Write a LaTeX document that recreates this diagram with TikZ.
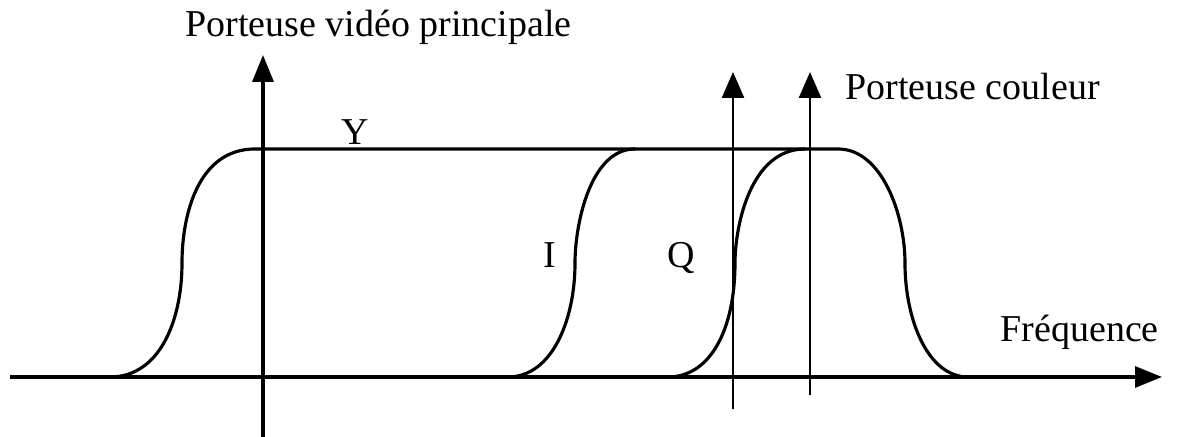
\documentclass[tikz,border=0pt]{standalone}
\usepackage{fontspec}
\setmainfont{Liberation Serif}
\usepackage{tikz}
\usetikzlibrary{arrows.meta, calc}
\tikzset{
    lbl/.style={
        font=\fontsize{10.8}{13}\selectfont,
        anchor=base west,
        inner sep=0pt
    },
    lblc/.style={
        font=\fontsize{10.8}{13}\selectfont,
        anchor=base,
        inner sep=0pt
    },
    axis/.style={-{Triangle[length=2.7mm, width=2.1mm]}, line width=0.9pt},
    carrier/.style={-{Triangle[length=2.6mm, width=2.2mm]}, line width=0.7pt},
    spectrum/.style={line width=0.9pt}
}

\begin{document}
\begin{tikzpicture}
\useasboundingbox (0,0) rectangle (11.77,4.37);

% =========================
% Axe des fréquences
% =========================
\coordinate (freqstart) at (0.10,0.60);
\coordinate (freqend)   at (11.62,0.60);
\draw[axis] (freqstart) -- (freqend);

\node[lbl] (freqlabel) at (10.00,0.95) {Fréquence};

% =========================
% Porteuse vidéo principale
% =========================
\coordinate (mainbottom) at (2.63,0);
\coordinate (maintop)    at (2.63,3.82);
\draw[axis, line width=1pt] (mainbottom) -- (maintop);

\node[lbl] (mainlabel) at (1.85,4.00) {Porteuse vidéo principale};

% =========================
% Porteuses couleur
% =========================
\coordinate (colAbottom) at (7.33,0.28);
\coordinate (colAtop)    at (7.33,3.65);
\coordinate (colBbottom) at (8.10,0.42);
\coordinate (colBtop)    at (8.10,3.65);

\draw[carrier] (colAbottom) -- (colAtop);
\draw[carrier] (colBbottom) -- (colBtop);

\node[lbl] (colorlabel) at (8.45,3.37) {Porteuse couleur};

% =========================
% Spectres Y, I et Q
% =========================
% Y : montée, palier, descente
\draw[spectrum]
    (1.10,0.60) .. controls (1.60,0.60) and (1.82,1.17) .. (1.82,1.74)
    .. controls (1.82,2.22) and (1.98,2.88) .. (2.55,2.88)
    -- (8.38,2.88)
    .. controls (8.82,2.88) and (9.05,2.22) .. (9.05,1.74)
    .. controls (9.05,1.17) and (9.28,0.60) .. (9.68,0.60);

% I
\draw[spectrum]
    (5.08,0.60) .. controls (5.52,0.60) and (5.75,1.17) .. (5.75,1.74)
    .. controls (5.75,2.12) and (5.90,2.88) .. (6.35,2.88);

% Q
\draw[spectrum]
    (6.68,0.60) .. controls (7.10,0.60) and (7.35,1.07) .. (7.35,1.74)
    .. controls (7.35,2.10) and (7.50,2.88) .. (8.05,2.88);

\node[lblc] (ylabel) at (3.55,2.92) {Y};
\node[lblc] (ilabel) at (5.50,1.69) {I};
\node[lblc] (qlabel) at (6.81,1.69) {Q};

\end{tikzpicture}
\end{document}
